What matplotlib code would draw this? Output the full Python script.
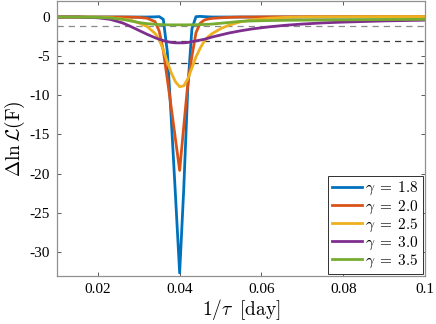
import matplotlib
matplotlib.use('Agg')
import matplotlib.pyplot as plt

plt.rcParams['mathtext.fontset'] = 'cm'
plt.rcParams['font.family'] = 'serif'
plt.rcParams['font.serif'] = ['Liberation Serif', 'DejaVu Serif']

# 1/tau grid [1/day]
inv_tau = [0.010, 0.015, 0.020, 0.023, 0.026, 0.028, 0.030, 0.032, 0.034, 0.035,
           0.036, 0.037, 0.038, 0.039, 0.040, 0.041, 0.042, 0.043, 0.044, 0.045,
           0.046, 0.047, 0.048, 0.050, 0.052, 0.055, 0.058, 0.062, 0.066, 0.070,
           0.075, 0.080, 0.090, 0.100]

dlnL_18 = [0, 0, 0, 0, 0, 0, 0, 0, 0.02, 0.05,
           -0.3, -4.5, -13.5, -23.0, -32.7, -22.0, -9.0, -1.5, 0.05, 0.08,
           0.05, 0.02, 0, 0, 0, 0, 0, 0, 0, 0,
           0, 0, 0, 0]
dlnL_20 = [0, 0, 0, 0, 0, -0.02, -0.05, -0.15, -0.6, -1.8,
           -4.3, -8.0, -11.8, -15.7, -19.6, -14.0, -8.5, -5.0, -2.0, -0.8,
           -0.4, -0.25, -0.17, -0.1, -0.05, 0, 0, 0.02, 0.03, 0.04,
           0.04, 0.05, 0.05, 0.05]
dlnL_25 = [0, 0, -0.02, -0.08, -0.25, -0.4, -0.75, -1.2, -2.1, -2.9,
           -4.2, -5.8, -7.2, -8.3, -8.9, -8.8, -7.9, -6.5, -5.1, -4.0,
           -3.1, -2.5, -2.1, -1.5, -1.05, -0.6, -0.35, -0.15, -0.05, 0,
           0.02, 0.03, 0.05, 0.06]
dlnL_30 = [0, 0, -0.1, -0.3, -0.75, -1.2, -1.7, -2.2, -2.65, -2.85,
           -3.0, -3.15, -3.25, -3.3, -3.3, -3.3, -3.25, -3.15, -3.05, -2.95,
           -2.85, -2.7, -2.55, -2.3, -2.05, -1.75, -1.5, -1.25, -1.05, -0.9,
           -0.75, -0.65, -0.5, -0.4]
dlnL_35 = [0, 0, -0.05, -0.12, -0.3, -0.5, -0.7, -0.85, -0.93, -0.96,
           -0.98, -1.0, -1.0, -1.0, -1.0, -1.0, -1.0, -0.99, -0.98, -0.97,
           -0.95, -0.93, -0.9, -0.8, -0.7, -0.55, -0.5, -0.45, -0.42, -0.4,
           -0.38, -0.36, -0.32, -0.3]

gammas = ['1.8', '2.0', '2.5', '3.0', '3.5']
colors = ['#0072BD', '#D95319', '#EDB120', '#7E2F8E', '#77AC30']

# confidence levels (2 dof)
levels = [-1.15, -3.09, -5.9]
level_colors = ['#8a8a8a', '#3a3a3a', '#3a3a3a']

fig = plt.figure(figsize=(4.36, 3.24), dpi=100)
ax = fig.add_axes([0.1307, 0.148, 0.844, 0.849])

for lv, lc in zip(levels, level_colors):
    ax.axhline(lv, color=lc, ls=(0, (5, 4)), lw=0.9, zorder=1)

series = [dlnL_18, dlnL_20, dlnL_25, dlnL_30, dlnL_35]
for ys, g, c in zip(series, gammas, colors):
    ax.plot(inv_tau, ys, color=c, lw=2, label=r'$\gamma\;=\;%s$' % g, zorder=2)

ax.set_xlim(0.01, 0.1)
ax.set_ylim(-33.1, 2.05)
ax.set_xticks([0.02, 0.04, 0.06, 0.08, 0.1])
ax.set_xticklabels(['0.02', '0.04', '0.06', '0.08', '0.1'])
ax.set_yticks([0, -5, -10, -15, -20, -25, -30])
ax.set_yticklabels(['0', '-5', '-10', '-15', '-20', '-25', '-30'])
ax.tick_params(direction='in', top=True, right=True, length=3, width=0.6,
               color='#404040', labelsize=11, pad=5)
for s in ax.spines.values():
    s.set_color('#909090')
    s.set_linewidth(0.9)

ax.set_xlabel(r'$1/\tau\;\;[\mathrm{day}]$', fontsize=14, labelpad=1)
ax.set_ylabel(r'$\Delta \ln \mathcal{L}(\mathrm{F})$', fontsize=14, labelpad=2)

leg = ax.legend(loc='lower right', fontsize=11, handlelength=2.0,
                handletextpad=0.2, borderpad=0.25, labelspacing=0.05,
                borderaxespad=0.15, fancybox=False, framealpha=1)
leg.get_frame().set_edgecolor('#303030')
leg.get_frame().set_linewidth(0.7)

fig.savefig('out.png', dpi=100)
